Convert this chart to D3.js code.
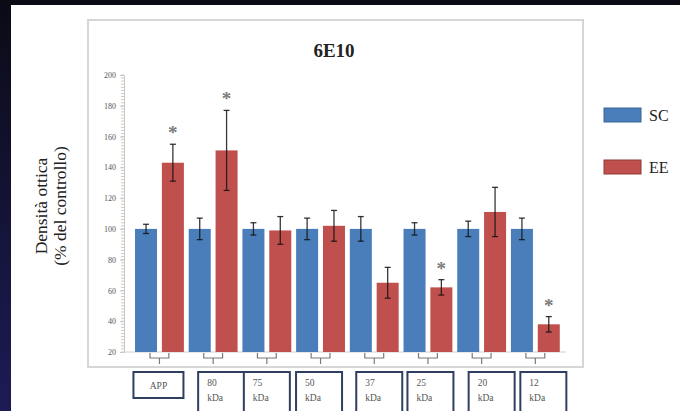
<!DOCTYPE html>
<html>
<head>
<meta charset="utf-8">
<script src="https://cdn.jsdelivr.net/npm/d3@7"></script>
<style>
  html, body { margin: 0; padding: 0; background: #ffffff; }
  svg { display: block; }
</style>
</head>
<body>
<svg id="chart" width="680" height="411"></svg>
<script>
// Optical density of 6E10-reactive bands, SC vs EE (% of control)
const groups = ["APP", "80 kDa", "75 kDa", "50 kDa", "37 kDa", "25 kDa", "20 kDa", "12 kDa"];
const seriesNames = ["SC", "EE"];
const scValues = [100, 100, 100, 100, 100, 100, 100, 100];
const scErrors = [3, 7, 4, 7, 8, 4, 5, 7];
const eeValues = [143, 151, 99, 102, 65, 62, 111, 38];
const eeErrors = [12, 26, 9, 10, 10, 5, 16, 5];
const significant = [true, true, false, false, false, true, false, true];
const yTicks = [20, 40, 60, 80, 100, 120, 140, 160, 180, 200];
const colors = { SC: "#4a7ebb", EE: "#c0504d" };
const strokeColors = { SC: "#3a6496", EE: "#8e3a38" };

const svg = d3.select("#chart");
const serif = "'Liberation Serif', 'DejaVu Serif', serif";

// slide backdrop
const defs = svg.append("defs");
const grad = defs.append("linearGradient").attr("id", "edge").attr("x1", 0).attr("y1", 0).attr("x2", 0).attr("y2", 1);
grad.append("stop").attr("offset", "0%").attr("stop-color", "#0b0b16");
grad.append("stop").attr("offset", "100%").attr("stop-color", "#1d1b55");
svg.append("rect").attr("x", 0).attr("y", 0).attr("width", 680).attr("height", 5).attr("fill", "#0b0b16");
svg.append("rect").attr("x", 0).attr("y", 0).attr("width", 11).attr("height", 411).attr("fill", "url(#edge)");

// chart frame
svg.append("rect").attr("x", 88).attr("y", 20).attr("width", 495).attr("height", 347)
  .attr("fill", "#fff").attr("stroke", "#d6d6d6").attr("stroke-width", 2);

const plot = { left: 124, right: 562, top: 75, bottom: 352 };

const y = d3.scaleLinear().domain([20, 200]).range([plot.bottom, plot.top]);
const x0 = d3.scaleBand().domain(groups).range([132.6, 562.2]).paddingInner(0).paddingOuter(0);
const x1 = d3.scaleBand().domain(seriesNames).range([0, x0.bandwidth()]).paddingInner(0.18).paddingOuter(0.09);

// title
svg.append("text").attr("x", 334).attr("y", 57).attr("text-anchor", "middle")
  .attr("font-family", serif).attr("font-weight", "bold").attr("font-size", 19).attr("fill", "#222")
  .text("6E10");

// y axis with minor ticks
const minor = d3.range(20, 201, 2);
svg.append("g").selectAll("line").data(minor).join("line")
  .attr("x1", plot.left - 3).attr("x2", plot.left)
  .attr("y1", d => y(d)).attr("y2", d => y(d))
  .attr("stroke", "#d8c9b8").attr("stroke-width", 1);
const yAxis = d3.axisLeft(y).tickValues(yTicks).tickSize(4).tickPadding(4);
const gy = svg.append("g").attr("transform", `translate(${plot.left},0)`).call(yAxis);
gy.select(".domain").attr("stroke", "#c8c8c8");
gy.selectAll(".tick line").attr("stroke", "#c8c8c8");
gy.selectAll(".tick text").attr("font-family", serif).attr("font-size", 8).attr("fill", "#555");

// baseline
svg.append("line").attr("x1", plot.left).attr("x2", 566).attr("y1", plot.bottom).attr("y2", plot.bottom)
  .attr("stroke", "#d6cfc6").attr("stroke-width", 1);

// axis title
const yt = svg.append("text").attr("transform", "translate(47,206) rotate(-90)")
  .attr("text-anchor", "middle").attr("font-family", serif).attr("font-size", 17.5).attr("fill", "#222");
yt.append("tspan").attr("x", 0).attr("dy", 0).text("Densità ottica");
yt.append("tspan").attr("x", 0).attr("dy", 19).text("(% del controllo)");

// bars
const rows = groups.map((g, i) => ({
  group: g,
  items: [
    { s: "SC", v: scValues[i], e: scErrors[i] },
    { s: "EE", v: eeValues[i], e: eeErrors[i], sig: significant[i] }
  ]
}));

const gGroups = svg.append("g").selectAll("g").data(rows).join("g")
  .attr("transform", d => `translate(${x0(d.group)},0)`);

gGroups.selectAll("rect").data(d => d.items).join("rect")
  .attr("x", d => x1(d.s)).attr("width", x1.bandwidth())
  .attr("y", d => y(d.v)).attr("height", d => y(20) - y(d.v))
  .attr("fill", d => colors[d.s]);

// error bars
const cap = 3;
gGroups.selectAll("g.err").data(d => d.items).join("g").attr("class", "err")
  .each(function (d) {
    const g = d3.select(this);
    const cx = x1(d.s) + x1.bandwidth() / 2;
    const col = "rgba(20,20,20,0.85)";
    g.append("line").attr("x1", cx).attr("x2", cx).attr("y1", y(d.v + d.e)).attr("y2", y(d.v - d.e))
      .attr("stroke", col).attr("stroke-width", 1.3);
    [d.v + d.e, d.v - d.e].forEach(v => {
      g.append("line").attr("x1", cx - cap).attr("x2", cx + cap).attr("y1", y(v)).attr("y2", y(v))
        .attr("stroke", col).attr("stroke-width", 1.3);
    });
  });

// significance markers
gGroups.selectAll("text.star").data(d => d.items.filter(it => it.sig)).join("text").attr("class", "star")
  .attr("x", d => x1(d.s) + x1.bandwidth() / 2)
  .attr("y", d => y(d.v + d.e) - 5)
  .attr("text-anchor", "middle").attr("font-family", serif).attr("font-weight", "bold")
  .attr("font-size", 19).attr("fill", "#7a7a7a").text("*");

// group brackets
gGroups.append("path")
  .attr("d", () => {
    const a = x1("SC") + x1.bandwidth() / 2 + 4;
    const b = x1("EE") + x1.bandwidth() / 2 - 4;
    const m = x0.bandwidth() / 2;
    return `M${a},${plot.bottom + 1}V${plot.bottom + 6}H${b}V${plot.bottom + 1}M${m},${plot.bottom + 6}V${plot.bottom + 12}`;
  })
  .attr("fill", "none").attr("stroke", "#7a7a7a").attr("stroke-width", 1.2);

// band label boxes
const labelNudge = [-1, 8, 0, -1.5, 5, 2.5, 10, 8];
const boxW = 46;
const boxes = svg.append("g").selectAll("g").data(groups).join("g")
  .attr("transform", (d, i) => `translate(${x0(d) + x0.bandwidth() / 2 + labelNudge[i] - boxW / 2},372)`);
boxes.append("rect")
  .attr("x", (d, i) => i === 0 ? -2 : 0).attr("y", 0)
  .attr("width", (d, i) => i === 0 ? boxW + 4 : boxW)
  .attr("height", (d, i) => i === 0 ? 26 : 50)
  .attr("fill", "#fff").attr("stroke", "#2f3f62").attr("stroke-width", 2);
boxes.each(function (d, i) {
  const g = d3.select(this);
  const t = g.append("text").attr("font-family", serif).attr("font-size", 9.5).attr("fill", "#555");
  if (i === 0) {
    t.attr("x", boxW / 2).attr("y", 16.5).attr("text-anchor", "middle").text(d);
  } else {
    const parts = d.split(" ");
    t.append("tspan").attr("x", 9).attr("y", 14).text(parts[0]);
    t.append("tspan").attr("x", 9).attr("y", 29).text(parts[1]);
  }
});

// legend
const legend = svg.append("g").selectAll("g").data(seriesNames).join("g")
  .attr("transform", (d, i) => `translate(604,${108 + i * 52})`);
legend.append("rect").attr("width", 37).attr("height", 14)
  .attr("fill", d => colors[d]).attr("stroke", d => strokeColors[d]).attr("stroke-width", 1);
legend.append("text").attr("x", 45).attr("y", 13).attr("font-family", serif).attr("font-size", 16)
  .attr("fill", "#222").text(d => d);
</script>
</body>
</html>
